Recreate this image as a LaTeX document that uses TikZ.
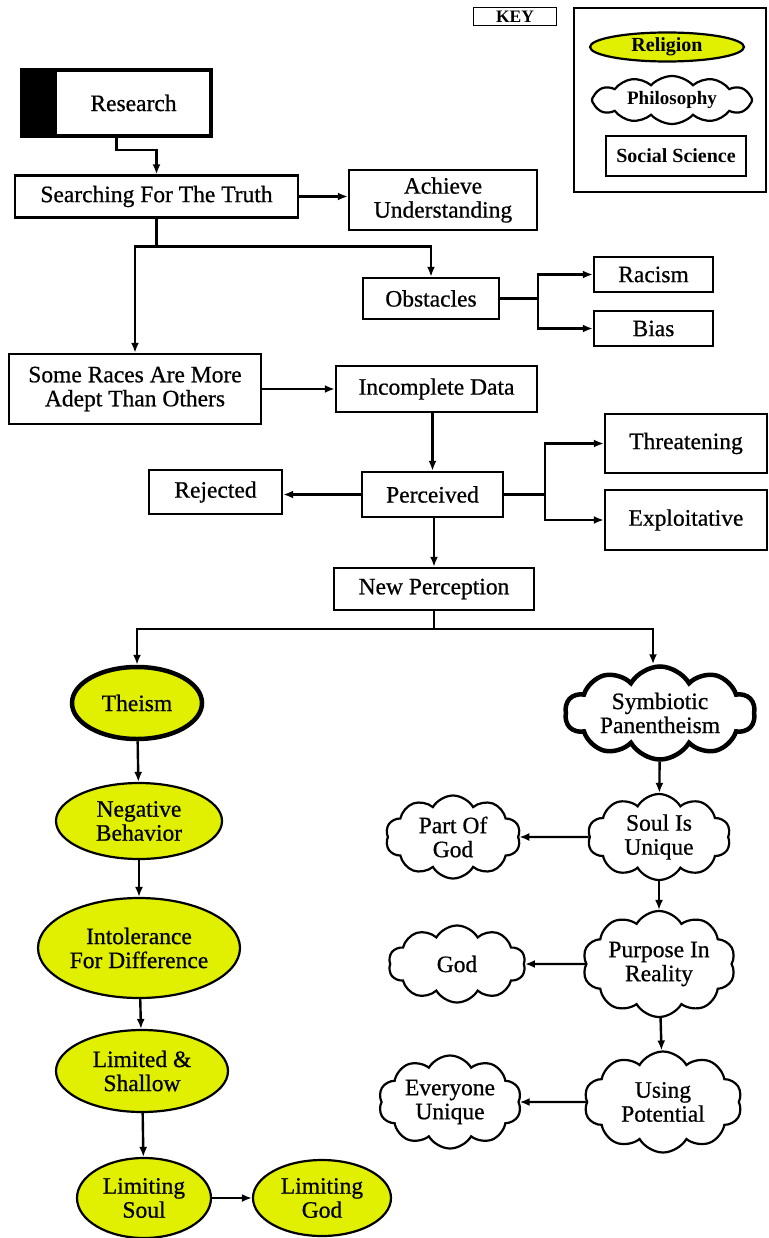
\documentclass[tikz,border=0pt]{standalone}
\usepackage{fontspec}
\setmainfont{Liberation Serif}
\newfontfamily\diagfont{Liberation Serif}[FakeBold=0.7]
\usepackage{tikz}
\usetikzlibrary{arrows.meta,positioning,calc,shapes.geometric,shapes.symbols}
\definecolor{religion}{RGB}{224,240,0}

\begin{document}
\begin{tikzpicture}[x=1pt,y=-1pt,
  every node/.style={font=\diagfont\fontsize{23.5}{24}\selectfont,align=center,inner sep=0pt},
  keyfont/.style={font=\bfseries\fontsize{20}{21}\selectfont},
  sbox/.style={draw,line width=2.4pt,rectangle,fill=white},
  relig/.style={draw,line width=2.2pt,ellipse,fill=religion},
  philo/.style={draw,line width=2.2pt,cloud,cloud puffs=10,cloud puff arc=120,cloud ignores aspect,fill=white},
  arr/.style={line width=2.4pt,-{Latex[length=10pt,width=8pt]}},
  lnk/.style={line width=2.4pt}]
\useasboundingbox (0,0) rectangle (768,1238);

% key
\node[sbox,line width=1.4pt,minimum width=83,minimum height=18,font=\bfseries\fontsize{17.5}{18}\selectfont] (key) at (515,16.5) {KEY};
\draw[line width=1.4pt] (574,8) rectangle (766,192);
\node[relig,minimum width=154,minimum height=29,keyfont] (keyrel) at (667,47) {Religion};
\node[philo,cloud puffs=12,cloud puff arc=95,minimum width=160,minimum height=48,keyfont,font=\bfseries\fontsize{19}{20}\selectfont] (keyphil) at (672,100) {Philosophy};
\node[sbox,minimum width=140,minimum height=40,keyfont] (keysoc) at (676,156) {Social Science};

% social science boxes
\node[sbox,line width=4.5pt,minimum width=189,minimum height=66,
  path picture={\fill[black] (path picture bounding box.north west) rectangle ([xshift=35pt]path picture bounding box.south west);}]
  (research) at (116.5,103) {\hspace*{34pt}Research};
\node[sbox,minimum width=283,minimum height=42] (search) at (156.5,196.5) {Searching For The Truth};
\node[sbox,minimum width=188,minimum height=60] (achieve) at (443,200) {Achieve\\Understanding};
\node[sbox,minimum width=136,minimum height=41] (obst) at (431,298.5) {Obstacles};
\node[sbox,minimum width=119,minimum height=35] (racism) at (653.5,274.5) {Racism};
\node[sbox,minimum width=119,minimum height=35] (bias) at (653.5,328.5) {Bias};
\node[sbox,minimum width=252,minimum height=70] (races) at (135,389) {Some Races Are More\\Adept Than Others};
\node[sbox,minimum width=201,minimum height=46] (incomp) at (436.5,389) {Incomplete Data};
\node[sbox,minimum width=141,minimum height=45] (perc) at (432.5,494.5) {Perceived};
\node[sbox,minimum width=133,minimum height=44] (reject) at (215.5,492) {Rejected};
\node[sbox,minimum width=162,minimum height=59] (threat) at (686,443.5) {Threatening};
\node[sbox,minimum width=162,minimum height=60] (exploit) at (686,520) {Exploitative};
\node[sbox,minimum width=200,minimum height=42] (newperc) at (434,589) {New Perception};

% religion
\node[relig,line width=4.5pt,minimum width=130,minimum height=72] (theism) at (137,703) {Theism};
\node[relig,minimum width=166,minimum height=76] (negbeh) at (139,821) {Negative\\Behavior};
\node[relig,minimum width=202,minimum height=100] (intol) at (139,948) {Intolerance\\For Difference};
\node[relig,minimum width=172,minimum height=82] (limsh) at (142,1071) {Limited \&\\Shallow};
\node[relig,minimum width=134,minimum height=80] (limsoul) at (144,1198) {Limiting\\Soul};
\node[relig,minimum width=138,minimum height=76] (limgod) at (322,1198) {Limiting\\God};

% philosophy
\node[philo,line width=4.5pt,minimum width=190,minimum height=93] (symb) at (660,713) {Symbiotic\\Panentheism};
\node[philo,minimum width=143,minimum height=86] (soul) at (659,837) {Soul Is\\Unique};
\node[philo,minimum width=135,minimum height=83] (partgod) at (453,837) {Part Of\\God};
\node[philo,minimum width=153,minimum height=106] (purpose) at (659,964) {Purpose In\\Reality};
\node[philo,minimum width=137,minimum height=77] (god) at (457,964) {God};
\node[philo,minimum width=158,minimum height=101] (usepot) at (663,1102) {Using\\Potential};
\node[philo,minimum width=143,minimum height=93] (everyone) at (450,1102) {Everyone\\Unique};

% connectors
\draw[arr] (research.south) -- ++(0,12) -| (search.north);
\draw[arr] (search.east) -- (search.east -| achieve.west);
\coordinate (fork1) at ($(search.south)+(0,28)$);
\draw[lnk] (search.south) -- (fork1);
\draw[arr] (fork1) -| (obst.north);
\draw[arr] (fork1) -| (races.north);
\draw[lnk] (obst.east) -- ++(38,0) coordinate (fork2);
\draw[arr] (fork2) |- (racism.west);
\draw[arr] (fork2) |- (bias.west);
\draw[arr] (races.east) -- (incomp.west);
\draw[arr] (perc.north |- incomp.south) -- (perc.north);
\draw[arr] (perc.west) -- (perc.west -| reject.east);
\draw[lnk] (perc.east) -- ++(41,0) coordinate (fork3);
\draw[arr] (fork3) |- (threat.west);
\draw[arr] (fork3) |- (exploit.west);
\draw[arr] (newperc.north |- perc.south) -- (newperc.north);
\coordinate (fork4) at ($(newperc.south)+(0,18)$);
\draw[lnk] (newperc.south) -- (fork4);
\draw[arr] (fork4) -| (theism.north);
\draw[arr] (fork4) -| ([xshift=-7pt]symb.north);
\draw[arr] (theism) -- (negbeh);
\draw[arr] (negbeh) -- (intol);
\draw[arr] (intol) -- (limsh);
\draw[arr] (limsh) -- (limsoul);
\draw[arr] (limsoul) -- (limgod);
\draw[arr] (symb) -- (soul);
\draw[arr] (soul) -- (partgod);
\draw[arr] (soul) -- (purpose);
\draw[arr] (purpose) -- (god);
\draw[arr] (purpose) -- (usepot);
\draw[arr] (usepot) -- (everyone);
\end{tikzpicture}
\end{document}
